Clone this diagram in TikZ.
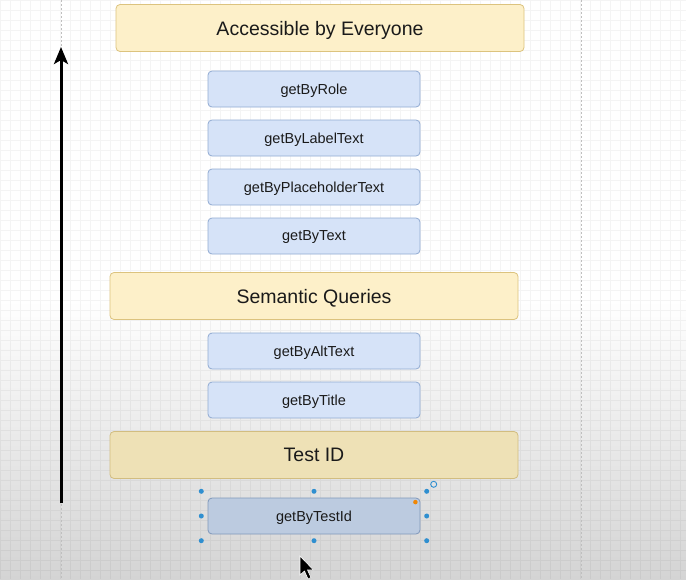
\documentclass[tikz,border=0pt]{standalone}
\usepackage{fontspec}
\setmainfont{Liberation Sans}
\usetikzlibrary{positioning,arrows.meta}

\definecolor{yelfill}{HTML}{FDF0C9}
\definecolor{yeldraw}{HTML}{DCC37E}
\definecolor{tanfill}{HTML}{EEE1B6}
\definecolor{tandraw}{HTML}{D2BD80}
\definecolor{bluefill}{HTML}{D6E3F8}
\definecolor{bluedraw}{HTML}{91ABD2}
\definecolor{selfill}{HTML}{BCCBE0}
\definecolor{seldraw}{HTML}{8098BB}
\definecolor{handleblue}{HTML}{2F8FD0}
\definecolor{hintorange}{HTML}{F08705}
\definecolor{labeltext}{HTML}{1A1A1A}
\definecolor{bggray}{HTML}{D4D4D4}

\begin{document}
\begin{tikzpicture}[%
x=1pt, y=-1pt,
node distance=49pt,
on grid,
header/.style={draw=yeldraw, fill=yelfill, rounded corners=4pt, line width=0.8pt,
  minimum width=408pt, minimum height=47pt, text=labeltext, text depth=0pt,
  font=\fontsize{19.5}{22}\selectfont},
query/.style={draw=bluedraw, fill=bluefill, rounded corners=4pt, line width=0.8pt,
  minimum width=212pt, minimum height=36pt, text=labeltext, text depth=0pt,
  font=\fontsize{14.5}{17}\selectfont},
handle/.style={circle, fill=handleblue, inner sep=0pt, minimum size=5pt}
]

\useasboundingbox (0,0) rectangle (686,579);

% canvas
\fill[white] (0,0) rectangle (686,300);
\shade[top color=white, bottom color=bggray] (0,300) rectangle (686,579);
\draw[black, opacity=0.045, step=10pt] (0,0) grid (686,579);
\draw[black!25, dashed, dash pattern=on 2pt off 2pt] (61,0) -- (61,579);
\draw[black!25, dashed, dash pattern=on 2pt off 2pt] (581,0) -- (581,579);

% levels
\node[header] (access) at (320,28) {Accessible by Everyone};
\node[query] (role) at (314,89) {getByRole};
\node[query] (label) [below of=role] {getByLabelText};
\node[query] (placeholder) [below of=label] {getByPlaceholderText};
\node[query] (text) [below of=placeholder] {getByText};
\node[header] (semantic) [below=60pt of text] {Semantic Queries};
\node[query] (alt) [below=55pt of semantic] {getByAltText};
\node[query] (title) [below of=alt] {getByTitle};
\node[header, fill=tanfill, draw=tandraw] (testid) [below=55pt of title] {Test ID};
\node[query, fill=selfill, draw=seldraw] (bytestid) [below=61pt of testid] {getByTestId};

% priority arrow
\coordinate (low) at (61,503);
\coordinate (high) at (61,47);
\draw[-{Stealth[length=17pt,width=14pt,inset=4pt]}, line width=3pt] (low) -- (high);

% selection handles
\node[minimum width=225pt, minimum height=49pt, inner sep=0pt] (sel) at (bytestid) {};
\foreach \a in {north west,north,north east,east,south east,south,south west,west}
  \node[handle] at (sel.\a) {};
\node[circle, draw=handleblue, line width=0.9pt, inner sep=0pt, minimum size=6pt]
  (rot) at ([shift={(7,-7)}]sel.north east) {};
\node[circle, fill=hintorange, inner sep=0pt, minimum size=4.5pt]
  (hint) at ([shift={(-5,4.5)}]bytestid.north east) {};

% mouse pointer
\draw[fill=black, draw=white, line width=0.6pt, shift={(300,556)}]
  (0,0) -- (0,19) -- (4.5,15) -- (8,23) -- (11,21.5) -- (7.5,14) -- (13.5,14) -- cycle;

\end{tikzpicture}
\end{document}
